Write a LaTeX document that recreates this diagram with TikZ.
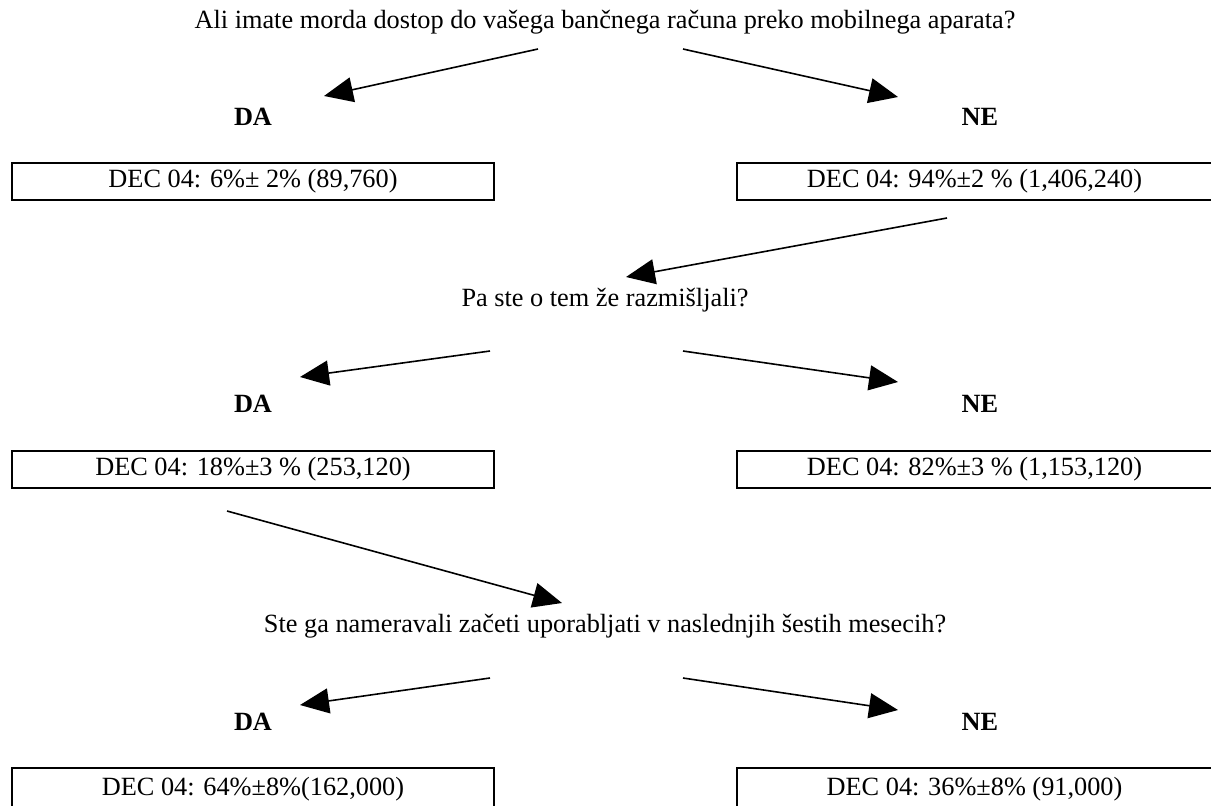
\documentclass[tikz,border=0pt]{standalone}
\usepackage{fontspec}
\setmainfont{Liberation Serif}
\usetikzlibrary{arrows.meta}
\begin{document}
\begin{tikzpicture}[x=0.5pt,y=-0.5pt,
  txt/.style={inner sep=0pt, anchor=base, font=\fontsize{13.15}{15}\selectfont},
  lbl/.style={inner sep=0pt, anchor=base, font=\fontsize{13.15}{15}\selectfont\bfseries},
  box/.style={draw, line width=1pt, inner sep=0pt, minimum height=18.5pt, font=\fontsize{13.15}{15}\selectfont},
  lbox/.style={box, minimum width=241pt},
  rbox/.style={box, minimum width=237.5pt},
  conn/.style={line width=0.8pt, -{Triangle[length=14.5pt,width=12.5pt]}}]
\useasboundingbox (0,0) rectangle (1211,805);
\clip (0,0) rectangle (1211,805);

% group 1
\node[txt] (q1) at (605,28) {Ali imate morda dostop do vašega bančnega računa preko mobilnega aparata?};
\node[lbl] (da1) at (253,125) {DA};
\node[lbl] (ne1) at (980,125) {NE};
\node[lbox] (b1) at (253,181.5) {DEC 04: 6\%± 2\% (89,760)};
\node[rbox] (b2) at (974.5,181.5) {DEC 04: 94\%±2 \% (1,406,240)};
\coordinate (a1s) at (538,49);  \coordinate (a1e) at (324,96);
\coordinate (a2s) at (683,49);  \coordinate (a2e) at (898,97);
\draw[conn] (a1s) -- (a1e);
\draw[conn] (a2s) -- (a2e);

% link to group 2
\coordinate (a3s) at (947,218); \coordinate (a3e) at (626,277);
\draw[conn] (a3s) -- (a3e);

% group 2
\node[txt] (q2) at (605,306) {Pa ste o tem že razmišljali?};
\node[lbl] (da2) at (253,412) {DA};
\node[lbl] (ne2) at (980,412) {NE};
\node[lbox] (b3) at (253,469) {DEC 04: 18\%±3 \% (253,120)};
\node[rbox] (b4) at (974.5,469) {DEC 04: 82\%±3 \% (1,153,120)};
\coordinate (a4s) at (490,351); \coordinate (a4e) at (300,377);
\coordinate (a5s) at (683,351); \coordinate (a5e) at (898,382);
\draw[conn] (a4s) -- (a4e);
\draw[conn] (a5s) -- (a5e);

% link to group 3
\coordinate (a6s) at (227,511); \coordinate (a6e) at (562,603);
\draw[conn] (a6s) -- (a6e);

% group 3
\node[txt] (q3) at (605,632) {Ste ga nameravali začeti uporabljati v naslednjih šestih mesecih?};
\node[lbl] (da3) at (253,730) {DA};
\node[lbl] (ne3) at (980,730) {NE};
\node[lbox, minimum height=21pt] (b5) at (253,789) {DEC 04: 64\%±8\%(162,000)};
\node[rbox, minimum height=21pt] (b6) at (974.5,789) {DEC 04: 36\%±8\% (91,000)};
\coordinate (a7s) at (490,678); \coordinate (a7e) at (300,705);
\coordinate (a8s) at (683,678); \coordinate (a8e) at (898,710);
\draw[conn] (a7s) -- (a7e);
\draw[conn] (a8s) -- (a8e);
\end{tikzpicture}
\end{document}
